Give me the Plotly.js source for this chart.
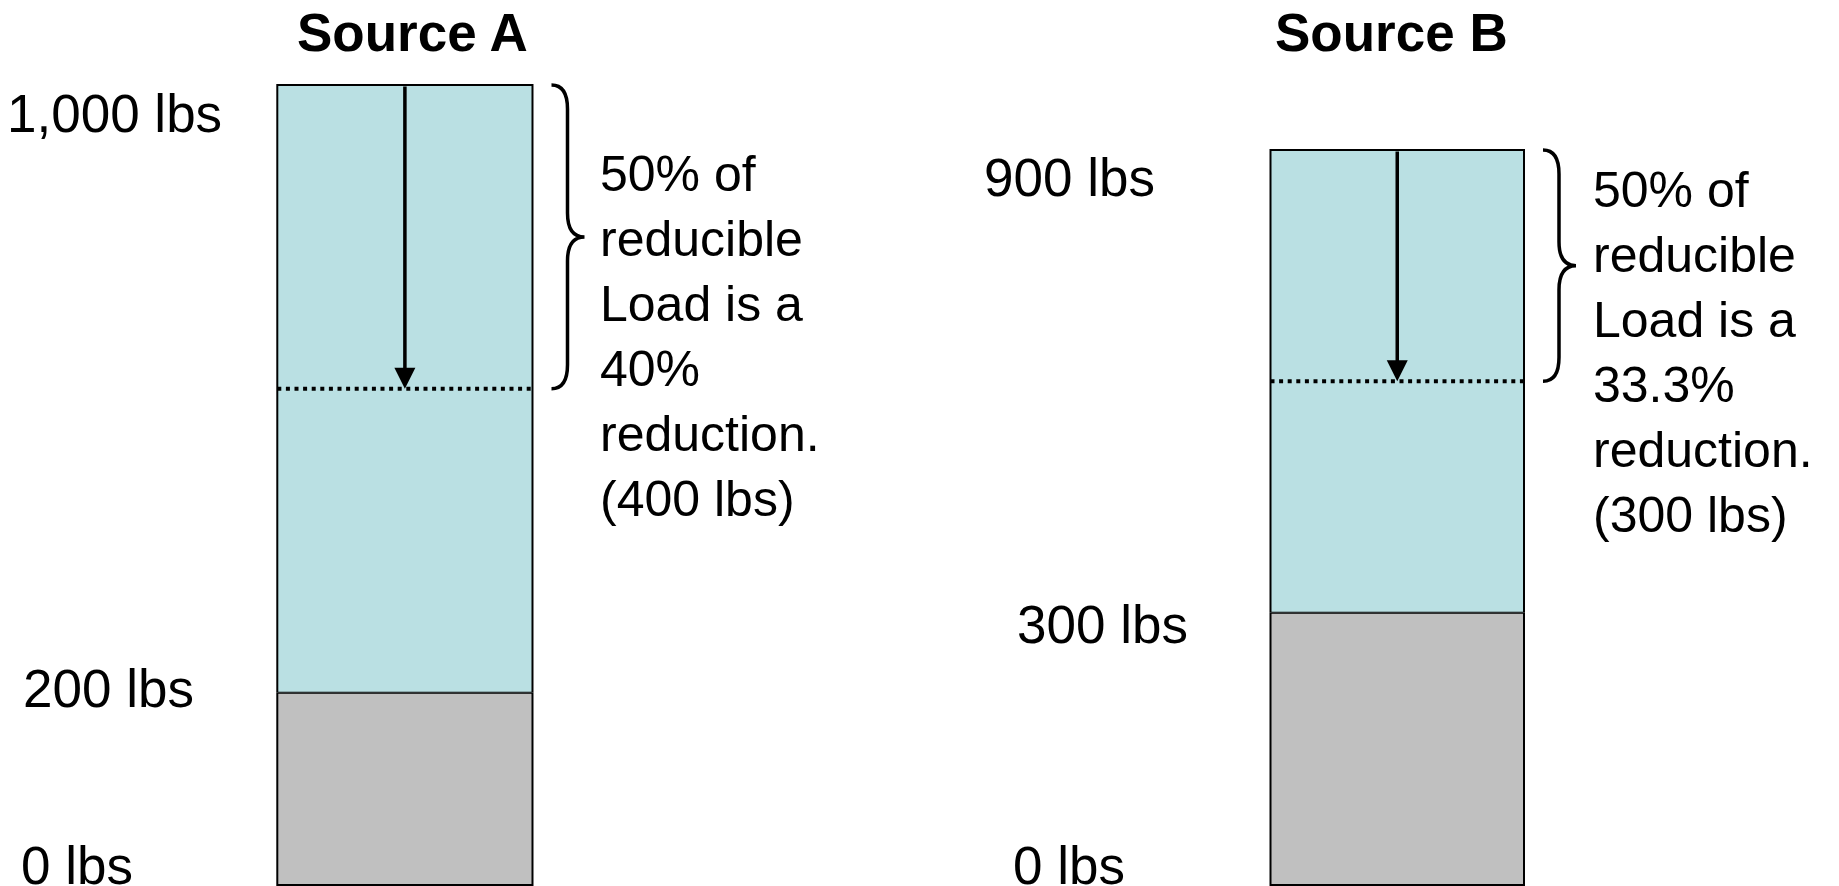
<!DOCTYPE html>
<html><head><meta charset="utf-8">
<script src="https://cdn.plot.ly/plotly-3.0.1.min.js"></script>
<style>html,body{margin:0;padding:0;background:#fff;overflow:hidden}#chart{width:1839px;height:886px}</style>
</head><body><div id="chart"></div>
<script>
// ---------------- data ----------------
const sources = ['Source A', 'Source B'];
const totalLoad = [1000, 900];          // lbs
const irreducibleLoad = [200, 300];     // lbs (grey part)
const reducibleCutShare = 0.5;          // 50% of reducible load removed
const levelLabels = [['1,000 lbs', '200 lbs', '0 lbs'], ['900 lbs', '300 lbs', '0 lbs']];

const reducibleLoad = totalLoad.map((t, i) => t - irreducibleLoad[i]);
const reductionLbs = reducibleLoad.map(r => r * reducibleCutShare);
const reducedLoad = totalLoad.map((t, i) => t - reductionLbs[i]);
const reductionPct = reductionLbs.map((r, i) => +(r / totalLoad[i] * 100).toFixed(1));

// ---------------- layout geometry (pixels; schematic, not to scale) ----------------
const W = 1839, H = 886;
const FONT = 'Liberation Sans, Arial, Helvetica, sans-serif';
const barLeftPx = [277.3, 1270.5], barRightPx = [532.5, 1524];
const basePx = 885, splitPx = [692.7, 612.7], topPx = [85, 150];
const XPAD = 0.02;
const titleCenterPx = [412, 1391], titleMidPx = 32.6;
const labelXPx = [[7, 23.1, 21.3], [983.8, 1016.8, 1013.3]];
const labelShift = [[-28, 4.7, 19.5], [-27.6, -11.6, 19.5]];
const noteXPx = [599.6, 1593], noteMidPx = [336, 353];

const layout = {
  width: W, height: H, margin: {l: 0, r: 0, t: 0, b: 0, pad: 0},
  paper_bgcolor: '#fff', plot_bgcolor: 'rgba(0,0,0,0)', showlegend: false,
  font: {family: FONT, color: '#000'}, shapes: [], annotations: []
};
const traces = [];

sources.forEach((src, i) => {
  const xid = i === 0 ? 'x' : 'x2';
  const yg = i === 0 ? 'y' : 'y3', yb = i === 0 ? 'y2' : 'y4';
  const axName = id => id.replace(/^([xy])(\d*)$/, (m, a, n) => a + 'axis' + n);
  const L = barLeftPx[i], R = barRightPx[i], w = R - L;
  layout[axName(xid)] = {type: 'category', domain: [(L - XPAD * w) / W, (R + XPAD * w) / W],
    range: [-0.5 - XPAD, 0.5 + XPAD], visible: false, fixedrange: true, anchor: yg};
  const k1 = (basePx - splitPx[i]) / irreducibleLoad[i];
  const k2 = (splitPx[i] - topPx[i]) / reducibleLoad[i];
  layout[axName(yg)] = {domain: [0, (H - splitPx[i]) / H], range: [-(H - basePx) / k1, irreducibleLoad[i]],
    visible: false, fixedrange: true, anchor: xid};
  layout[axName(yb)] = {domain: [(H - splitPx[i]) / H, (H - topPx[i] + 8) / H],
    range: [irreducibleLoad[i], totalLoad[i] + 8 / k2], visible: false, fixedrange: true, anchor: xid};

  traces.push({type: 'bar', x: [src], y: [irreducibleLoad[i]], base: [0], width: [1],
    xaxis: xid, yaxis: yg, marker: {color: '#C0C0C0', line: {color: '#000', width: 2}}, hoverinfo: 'skip'});
  traces.push({type: 'bar', x: [src], y: [reducibleLoad[i]], base: [irreducibleLoad[i]], width: [1],
    xaxis: xid, yaxis: yb, marker: {color: '#BAE0E3', line: {color: '#000', width: 2}}, hoverinfo: 'skip'});

  // dotted line at reduced load
  const f = XPAD / (1 + 2 * XPAD);
  layout.shapes.push({type: 'line', xref: xid + ' domain', yref: yb, x0: f, x1: 1 - f,
    y0: reducedLoad[i], y1: reducedLoad[i], line: {color: '#000', width: 4, dash: '4px,4.6px'}});

  // brace from total down to reduced level
  const tx = (R + 19) / W, sx = (R + 35) / W, px = (R + 52) / W;
  const T = totalLoad[i], B = reducedLoad[i], M = (T + B) / 2, c = 24 / k2;
  layout.shapes.push({type: 'path', xref: 'paper', yref: yb, line: {color: '#000', width: 3.5},
    fillcolor: 'rgba(0,0,0,0)',
    path: `M${tx},${T} Q${sx},${T} ${sx},${T - c} L${sx},${M + c} Q${sx},${M} ${px},${M} ` +
          `Q${sx},${M} ${sx},${M - c} L${sx},${B + c} Q${sx},${B} ${tx},${B}`});

  // arrow from total to reduced
  layout.annotations.push({xref: xid, x: src, yref: yb, y: reducedLoad[i], axref: 'pixel', ax: 0,
    ayref: yb, ay: totalLoad[i], text: '', showarrow: true, arrowhead: 2, arrowsize: 1.2,
    arrowwidth: 3.5, arrowcolor: '#000', standoff: 0});

  // title
  layout.annotations.push({xref: 'paper', yref: 'paper', x: titleCenterPx[i] / W, y: (H - titleMidPx) / H,
    xanchor: 'center', yanchor: 'middle', showarrow: false, borderpad: 0, borderwidth: 0,
    text: '<b>' + src + '</b>', font: {family: FONT, size: 53, color: '#000'}});

  // level labels
  const levels = [totalLoad[i], irreducibleLoad[i], 0];
  const refs = [yb, yb, yg];
  levels.forEach((v, j) => {
    layout.annotations.push({xref: 'paper', x: labelXPx[i][j] / W, yref: refs[j], y: v,
      yshift: labelShift[i][j], xanchor: 'left', yanchor: 'middle', showarrow: false,
      borderpad: 0, borderwidth: 0, text: levelLabels[i][j], font: {family: FONT, size: 53, color: '#000'}});
  });

  // explanatory note
  layout.annotations.push({xref: 'paper', yref: 'paper', x: noteXPx[i] / W, y: (H - noteMidPx[i]) / H,
    xanchor: 'left', yanchor: 'middle', align: 'left', showarrow: false, borderpad: 0, borderwidth: 0,
    font: {family: FONT, size: 50, color: '#000'},
    text: `${reducibleCutShare * 100}% of<br>reducible<br>Load is a<br>${reductionPct[i]}%<br>reduction.<br>(${reductionLbs[i]} lbs)`});
});

Plotly.newPlot('chart', traces, layout, {displayModeBar: false, staticPlot: true});
</script>
</body></html>
